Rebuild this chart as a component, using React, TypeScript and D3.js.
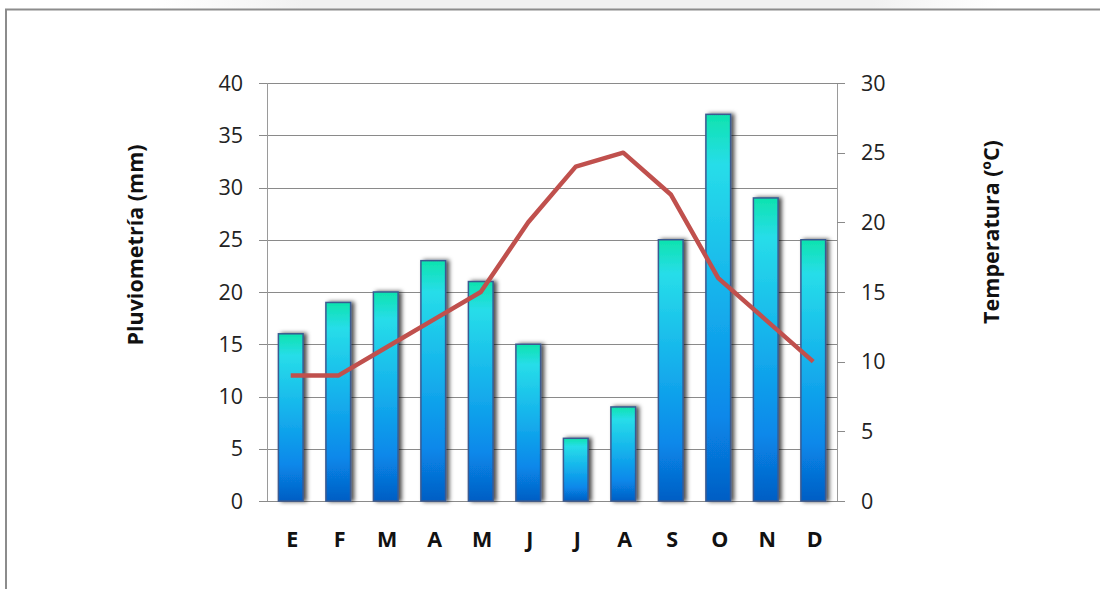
import React from "react";
import * as d3 from "d3";

// Climograma: monthly rainfall (bars, left axis) and mean temperature (line, right axis)
const months: string[] = ["E", "F", "M", "A", "M", "J", "J", "A", "S", "O", "N", "D"];
const rainfall: number[] = [16, 19, 20, 23, 21, 15, 6, 9, 25, 37, 29, 25];
const temperature: number[] = [9, 9, 11, 13, 15, 20, 24, 25, 22, 16, 13, 10];
const rainTicks: number[] = [0, 5, 10, 15, 20, 25, 30, 35, 40];
const tempTicks: number[] = [0, 5, 10, 15, 20, 25, 30];

const W = 1100;
const H = 589;
const left = 267;
const right = 837;
const top = 83;
const bottom = 501;

const FONT = "'Open Sans', 'Liberation Sans', sans-serif";

export default function App() {
  const idx = months.map((_, i) => String(i));
  const x = d3.scaleBand<string>().domain(idx).range([left, right]).paddingInner(0.48).paddingOuter(0.24);
  const yRain = d3.scaleLinear().domain([0, 40]).range([bottom, top]);
  const yTemp = d3.scaleLinear().domain([0, 30]).range([bottom, top]);
  const bw = x.bandwidth();
  const cx = (i: number) => (x(String(i)) as number) + bw / 2;

  const line = d3
    .line<number>()
    .x((_, i) => cx(i))
    .y((d) => yTemp(d));

  return (
    <div style={{ position: "absolute", left: 0, top: 0 }}>
      <svg width={W} height={H} style={{ display: "block", background: "#fff" }}>
        <defs>
          <linearGradient id="barFill" x1="0" y1="0" x2="0" y2="1">
            <stop offset="0" stopColor="#0ee3ae" />
            <stop offset="0.13" stopColor="#27dde9" />
            <stop offset="0.45" stopColor="#16b4ec" />
            <stop offset="0.78" stopColor="#0888ea" />
            <stop offset="1" stopColor="#045ec4" />
          </linearGradient>
          <linearGradient id="haze" x1="0" y1="0" x2="1" y2="0">
            <stop offset="0" stopColor="#f3f3f3" stopOpacity="0" />
            <stop offset="0.18" stopColor="#f1f1f1" stopOpacity="1" />
            <stop offset="0.85" stopColor="#f1f1f1" stopOpacity="1" />
            <stop offset="1" stopColor="#f3f3f3" stopOpacity="0" />
          </linearGradient>
          <filter id="barShadow" x="-50%" y="-20%" width="200%" height="140%">
            <feDropShadow dx="3" dy="0" stdDeviation="2.2" floodColor="#000" floodOpacity="0.7" />
          </filter>
        </defs>

        {/* outer frame */}
        <rect x={150} y={0} width={850} height={9} fill="url(#haze)" />
        <line x1={5} x2={W} y1={9.5} y2={9.5} stroke="#8c8c8c" strokeWidth={2} />
        <line x1={6} x2={6} y1={9} y2={H} stroke="#8c8c8c" strokeWidth={2} />

        {/* horizontal gridlines */}
        {rainTicks.map((t) => (
          <line
            key={"g" + t}
            x1={left - 8}
            x2={t === 0 ? right + 8 : right}
            y1={Math.round(yRain(t)) + 0.5}
            y2={Math.round(yRain(t)) + 0.5}
            stroke="#8a8a8a"
            strokeWidth={1}
          />
        ))}

        {/* axis lines */}
        <line x1={left + 0.5} x2={left + 0.5} y1={top} y2={bottom} stroke="#9a9a9a" />
        <line x1={right + 0.5} x2={right + 0.5} y1={top} y2={bottom} stroke="#9a9a9a" />

        {/* right axis ticks */}
        {tempTicks.map((t) => (
          <line
            key={"rt" + t}
            x1={right}
            x2={right + 8}
            y1={Math.round(yTemp(t)) + 0.5}
            y2={Math.round(yTemp(t)) + 0.5}
            stroke="#8a8a8a"
          />
        ))}

        {/* rainfall bars */}
        {rainfall.map((v, i) => (
          <rect
            key={"b" + i}
            x={x(String(i))}
            y={yRain(v)}
            width={bw}
            height={bottom - yRain(v)}
            fill="url(#barFill)"
            stroke="#3a5a90"
            strokeWidth={1.5}
            filter="url(#barShadow)"
          />
        ))}

        {/* temperature line */}
        <path
          d={line(temperature) || ""}
          fill="none"
          stroke="#c0504d"
          strokeWidth={4.5}
          strokeLinejoin="round"
          strokeLinecap="butt"
        />

        {/* left tick labels */}
        {rainTicks.map((t) => (
          <text
            key={"lt" + t}
            x={243}
            y={yRain(t)}
            dy="0.35em"
            textAnchor="end"
            fontFamily={FONT}
            fontSize={21.5}
            fill="#222"
          >
            {t}
          </text>
        ))}

        {/* right tick labels */}
        {tempTicks.map((t) => (
          <text
            key={"rl" + t}
            x={861}
            y={yTemp(t)}
            dy="0.35em"
            textAnchor="start"
            fontFamily={FONT}
            fontSize={21.5}
            fill="#222"
          >
            {t}
          </text>
        ))}

        {/* month labels */}
        {months.map((m, i) => (
          <text
            key={"m" + i}
            x={cx(i) + 1.5}
            y={539.5}
            dy="0.35em"
            textAnchor="middle"
            fontFamily={FONT}
            fontWeight="bold"
            fontSize={21.5}
            fill="#111"
          >
            {m}
          </text>
        ))}

        {/* axis titles */}
        <text
          transform="translate(135,245) rotate(-90)"
          dy="0.35em"
          textAnchor="middle"
          fontFamily={FONT}
          fontWeight="bold"
          fontSize={21.5}
          fill="#111"
        >
          Pluviometría (mm)
        </text>
        <text
          transform="translate(991,232) rotate(-90)"
          dy="0.35em"
          textAnchor="middle"
          fontFamily={FONT}
          fontWeight="bold"
          fontSize={21.5}
          fill="#111"
        >
          Temperatura (ºC)
        </text>
      </svg>
    </div>
  );
}
